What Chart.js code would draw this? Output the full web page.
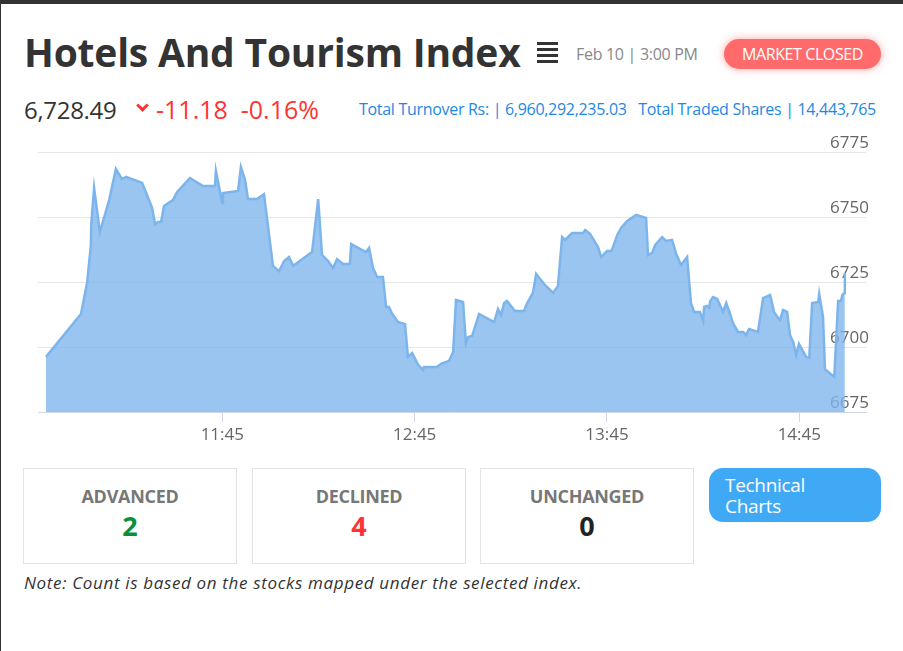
<!DOCTYPE html>
<html><head><meta charset="utf-8">
<script src="https://cdn.jsdelivr.net/npm/chart.js@4"></script>
<style>
body{margin:0;width:903px;height:651px;overflow:hidden;background:#fff;font-family:"Open Sans",sans-serif;position:relative}
.abs{position:absolute;white-space:nowrap}
#top{left:0;top:0;width:903px;height:4px;background:#333}
#lb{left:0;top:0;width:1px;height:651px;background:#333}
#title{left:24px;top:25px;font-size:39px;font-weight:700;color:#333;letter-spacing:-0.2px}
#menu{left:537px;top:42px;width:21px}
#menu div{height:3px;background:#333;margin-bottom:3px}
#date{left:576px;top:43px;font-size:16px;color:#888;letter-spacing:-0.3px}
#mc{left:724px;top:39px;width:157px;height:30px;border-radius:15px;background:#ff6b6b;color:#fff;font-size:16px;text-align:center;line-height:30px;box-shadow:0 0 8px rgba(255,107,107,.6);letter-spacing:-0.4px}
#val{left:24px;top:93px;font-size:24px;color:#333;letter-spacing:-0.3px}
#chg{left:138px;top:92px;font-size:25px;color:#f33;letter-spacing:0px}
#info{left:359px;top:98px;font-size:16px;color:#1e88e5;letter-spacing:-0.3px}
.box{top:468px;width:212px;height:94px;border:1px solid #e3e3e3;text-align:center}
.box .h{margin-top:15px;font-size:18px;font-weight:700;color:#777;letter-spacing:-0.3px}
.box .n{margin-top:-1px;font-size:27px;font-weight:700}
#tc{left:709px;top:468px;width:172px;height:54px;border-radius:14px;background:#3fa9f5;color:#fff;font-size:19px;line-height:21px;padding:7px 0 0 16px;box-sizing:border-box;white-space:normal;letter-spacing:-0.3px}
#note{left:24px;top:571px;font-size:17px;font-style:italic;color:#333;letter-spacing:0.65px}
#wrap{left:0;top:130px;width:903px;height:330px}
</style></head><body>
<div class="abs" id="top"></div><div class="abs" id="lb"></div>
<div class="abs" id="title">Hotels And Tourism Index</div>
<div class="abs" id="menu"><div></div><div></div><div></div><div></div></div>
<div class="abs" id="date">Feb 10 | 3:00 PM</div>
<div class="abs" id="mc">MARKET CLOSED</div>
<div class="abs" id="val">6,728.49</div>
<div class="abs" id="chg"><span style="display:inline-block;width:6px;height:6px;border-right:3px solid #f33;border-bottom:3px solid #f33;transform:rotate(45deg);position:relative;top:-9px;margin-right:9px"></span>-11.18&nbsp;&nbsp;-0.16%</div>
<div class="abs" id="info">Total Turnover Rs: | 6,960,292,235.03&nbsp;&nbsp; Total Traded Shares | 14,443,765</div>
<div class="abs" id="wrap"><canvas id="c" width="903" height="330"></canvas></div>
<div class="abs box" style="left:23px"><div class="h">ADVANCED</div><div class="n" style="color:#0a8f3a">2</div></div>
<div class="abs box" style="left:252px"><div class="h">DECLINED</div><div class="n" style="color:#f33">4</div></div>
<div class="abs box" style="left:480px"><div class="h">UNCHANGED</div><div class="n" style="color:#222">0</div></div>
<div class="abs" id="tc">Technical<br>Charts</div>
<div class="abs" id="note">Note: Count is based on the stocks mapped under the selected index.</div>
<script>
// minutes after 10:50
const minutes=[0,10.9,12.8,14.0,14.1,15.0,16.8,19.7,21.8,23.7,25.0,30.0,33.1,34.0,34.9,35.9,36.8,39.6,40.9,44.9,49.0,52.7,53.0,54.3,54.9,55.2,59.9,60.8,62.1,63.0,65.8,68.0,70.8,72.7,74.3,75.8,77.1,83.0,84.9,86.1,88.0,89.5,90.8,92.7,94.8,95.2,99.8,100.8,102.0,103.3,105.1,106.1,107.0,108.0,109.8,112.0,112.9,114.2,116.1,117.6,117.9,122.0,123.2,125.7,127.0,127.9,130.1,131.0,131.7,132.9,135.1,139.8,141.0,142.0,142.9,143.8,146.3,149.1,150.1,151.9,152.9,155.4,158.2,159.7,161.0,161.9,164.1,167.5,168.2,169.7,172.2,173.2,175.0,176.3,176.9,178.2,179.4,181.3,184.1,187.2,187.8,189.1,190.0,190.6,192.2,193.4,195.3,196.6,198.1,200.0,201.2,202.2,204.0,205.0,205.3,206.2,206.9,207.2,208.1,209.4,211.2,212.2,213.4,214.3,215.9,217.5,218.4,219.3,222.1,223.7,225.9,227.1,228.4,229.0,229.9,231.2,232.1,233.1,234.0,234.9,237.1,238.1,239.0,240.9,241.2,242.4,243.0,245.9,247.1,248.0,248.4,249.0,249.2];
const indexValues=[6696.2,6712.7,6724.6,6739.2,6746.9,6761.2,6744.2,6756.5,6768.5,6764.6,6765.4,6763.1,6753.5,6747.3,6748.1,6748.1,6754.2,6756.5,6759.6,6765.0,6761.9,6761.9,6767.7,6759.6,6755.4,6759.2,6760.0,6769.2,6764.2,6756.9,6756.9,6758.8,6731.2,6729.2,6733.1,6734.6,6731.2,6736.5,6756.9,6735.4,6733.1,6730.4,6733.8,6731.9,6731.9,6739.6,6736.5,6738.1,6730.4,6726.9,6726.9,6715.4,6715.4,6712.7,6709.6,6708.8,6696.2,6697.7,6693.1,6691.2,6692.3,6692.3,6693.5,6694.6,6698.1,6718.1,6717.3,6701.5,6703.8,6704.2,6712.7,6709.6,6714.6,6712.3,6716.9,6717.7,6713.8,6713.8,6716.9,6720.8,6728.1,6724.2,6720.8,6723.5,6742.3,6741.2,6743.8,6743.8,6745.0,6743.5,6738.5,6734.6,6736.9,6736.9,6738.5,6743.1,6745.8,6748.5,6750.8,6749.6,6735.4,6736.2,6739.2,6740.0,6742.3,6740.8,6741.2,6735.8,6731.5,6734.6,6716.9,6713.5,6713.5,6710.0,6715.4,6715.8,6715.0,6717.7,6719.2,6718.5,6713.5,6716.9,6712.7,6709.2,6705.8,6705.8,6704.6,6706.9,6705.8,6718.8,6720.0,6713.5,6711.2,6710.4,6714.2,6713.5,6704.6,6701.9,6696.9,6701.2,6696.2,6695.8,6716.9,6717.3,6720.4,6711.5,6691.5,6688.5,6717.7,6717.7,6720.0,6720.8,6728.5];
const xTickMinutes=[55,115,175,235];
const xTickLabels=['11:45','12:45','13:45','14:45'];
const yTicks=[6675,6700,6725,6750,6775];

new Chart(document.getElementById('c'),{
 type:'line',
 data:{datasets:[{data:minutes.map((m,i)=>({x:m,y:indexValues[i]})),borderColor:'#7cb5ec',backgroundColor:'rgba(124,181,236,0.78)',fill:'start',borderWidth:2.5,pointRadius:0,tension:0}]},
 options:{responsive:false,animation:false,
  layout:{padding:{left:38,right:37,top:22,bottom:0}},
  plugins:{legend:{display:false},tooltip:{enabled:false}},
  scales:{
   x:{type:'linear',min:-2.5,max:255.8,
    afterBuildTicks:s=>{s.ticks=xTickMinutes.map(v=>({value:v}));},
    afterFit:s=>{s.height=48;},
    ticks:{callback:(v)=>xTickLabels[xTickMinutes.indexOf(v)],color:'#666',font:{family:'Open Sans',size:17},padding:3,maxRotation:0,autoSkip:false},
    grid:{drawOnChartArea:false,color:'#ccd6eb',tickLength:10},
    border:{color:'#ccd6eb',width:1}},
   y:{position:'right',min:6675,max:6775,
    afterBuildTicks:s=>{s.ticks=yTicks.map(v=>({value:v}));},
    afterFit:s=>{s.width=0;},
    ticks:{mirror:true,padding:3,labelOffset:-9,color:'#666',font:{family:'Open Sans',size:17},callback:v=>String(v)},
    grid:{color:'#e6e6e6',drawTicks:false},
    border:{display:false}}
  }}
});
</script>
</body></html>
